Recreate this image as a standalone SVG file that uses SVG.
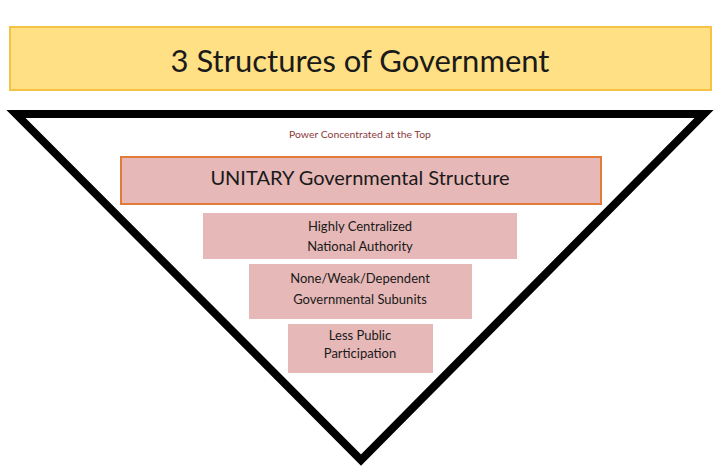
<svg xmlns="http://www.w3.org/2000/svg" width="720" height="475" viewBox="0 0 720 475">
<style>
text{font-family:Lato,"Open Sans","Liberation Sans",sans-serif;fill:#1a1a1a;text-anchor:middle}
.box{fill:#e6b8b7}
.sm{font-size:13px}
</style>
<rect x="0" y="0" width="720" height="475" fill="#fff"/>
<g id="title">
<rect x="10" y="27" width="701" height="63" fill="#ffe085" stroke="#f5c244" stroke-width="2"/>
<text x="360" y="72" font-size="31">3 Structures of Government</text>
</g>
<g id="triangle">
<polygon points="16,114 704,114 361,460" fill="#fff" stroke="#000" stroke-width="8" stroke-linejoin="miter"/>
<text x="360" y="138" font-size="10.4" style="fill:#8b3a3a">Power Concentrated at the Top</text>
</g>
<g id="unitary">
<rect x="121" y="157" width="480" height="47" class="box" stroke="#e07b39" stroke-width="2"/>
<text x="360" y="185" font-size="20">UNITARY Governmental Structure</text>
</g>
<g id="national">
<rect x="203" y="213" width="314" height="46" class="box"/>
<text x="360" y="231" class="sm">Highly Centralized</text>
<text x="360" y="251" class="sm">National Authority</text>
</g>
<g id="subunits">
<rect x="249" y="264" width="223" height="55" class="box"/>
<text x="360" y="283" class="sm">None/Weak/Dependent</text>
<text x="360" y="304" class="sm">Governmental Subunits</text>
</g>
<g id="participation">
<rect x="288" y="324" width="145" height="49" class="box"/>
<text x="360" y="340" class="sm">Less Public</text>
<text x="360" y="358" class="sm">Participation</text>
</g>
<g id="connectors"/>
</svg>
